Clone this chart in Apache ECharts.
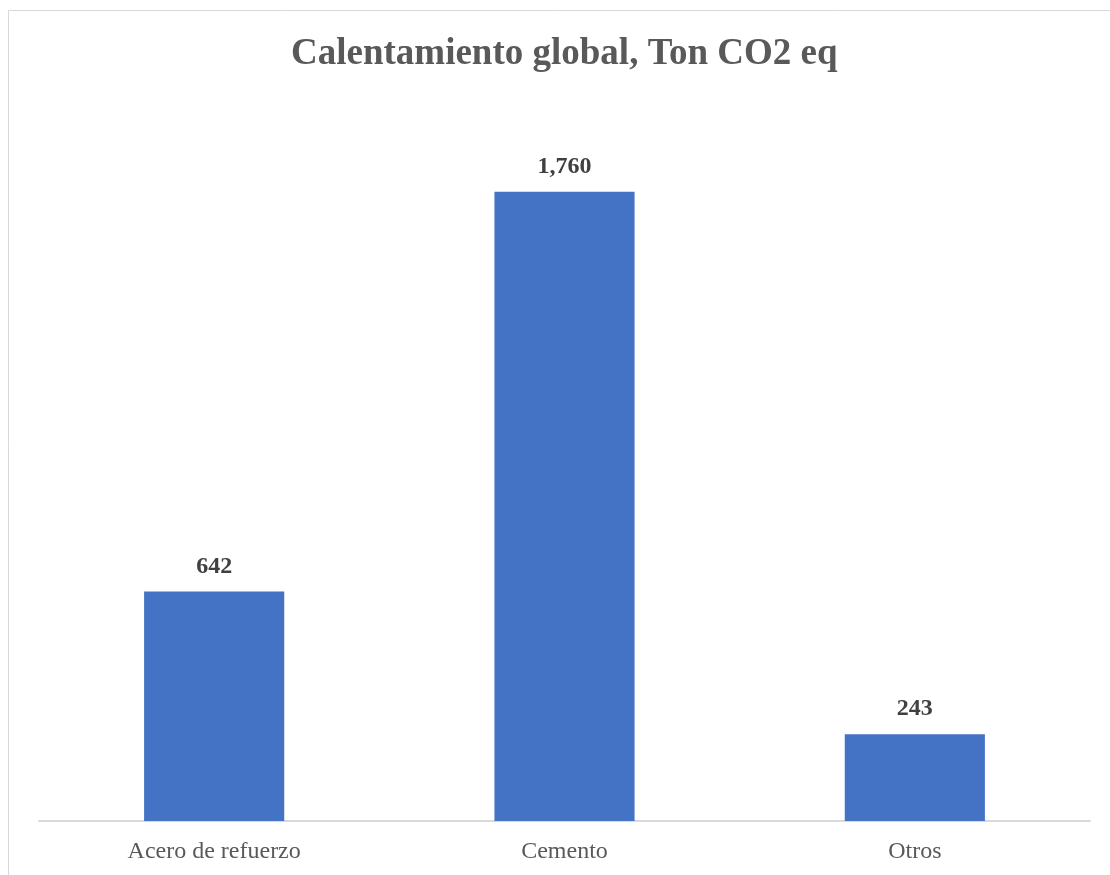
<!DOCTYPE html>
<html>
<head>
<meta charset="utf-8">
<script src="https://cdn.jsdelivr.net/npm/echarts@6/dist/echarts.min.js"></script>
<style>
  html, body { margin: 0; padding: 0; background: #ffffff; }
  #chart { width: 1110px; height: 875px; }
</style>
</head>
<body>
<div id="chart"></div>
<script>
// Global warming contribution per material, tonnes of CO2 equivalent
const categories = ['Acero de refuerzo', 'Cemento', 'Otros'];
const values = [642, 1760, 243];
const titleText = 'Calentamiento global, Ton CO2 eq';

const chart = echarts.init(document.getElementById('chart'), null, { renderer: 'canvas' });

const serif = '"Liberation Serif", "Times New Roman", serif';

chart.setOption({
  backgroundColor: '#ffffff',
  animation: false,
  graphic: [{
    type: 'rect',
    shape: { x: 8.5, y: 10.5, width: 1120, height: 900 },
    style: { fill: 'none', stroke: '#d9d9d9', lineWidth: 1 },
    silent: true,
    z: -1
  }],
  title: {
    text: titleText,
    left: 286,
    top: 31,
    textStyle: {
      fontFamily: serif,
      fontWeight: 'bold',
      fontSize: 37,
      color: '#595959'
    }
  },
  grid: { left: 39, right: 20, top: 106, bottom: 54, containLabel: false },
  xAxis: {
    type: 'category',
    data: categories,
    axisLine: { lineStyle: { color: '#d9d9d9', width: 2 } },
    axisTick: { show: false },
    axisLabel: {
      fontFamily: serif,
      fontSize: 24,
      color: '#595959',
      margin: 19
    }
  },
  yAxis: {
    type: 'value',
    min: 0,
    max: 2000,
    interval: 250,
    show: false,
    splitLine: { show: false }
  },
  series: [{
    type: 'bar',
    data: values,
    barWidth: '40%',
    itemStyle: { color: '#4472C4' },
    label: {
      show: true,
      position: 'top',
      distance: 13,
      fontFamily: serif,
      fontWeight: 'bold',
      fontSize: 24,
      color: '#404040',
      formatter: p => p.value.toLocaleString('en-US')
    }
  }]
});
</script>
</body>
</html>
